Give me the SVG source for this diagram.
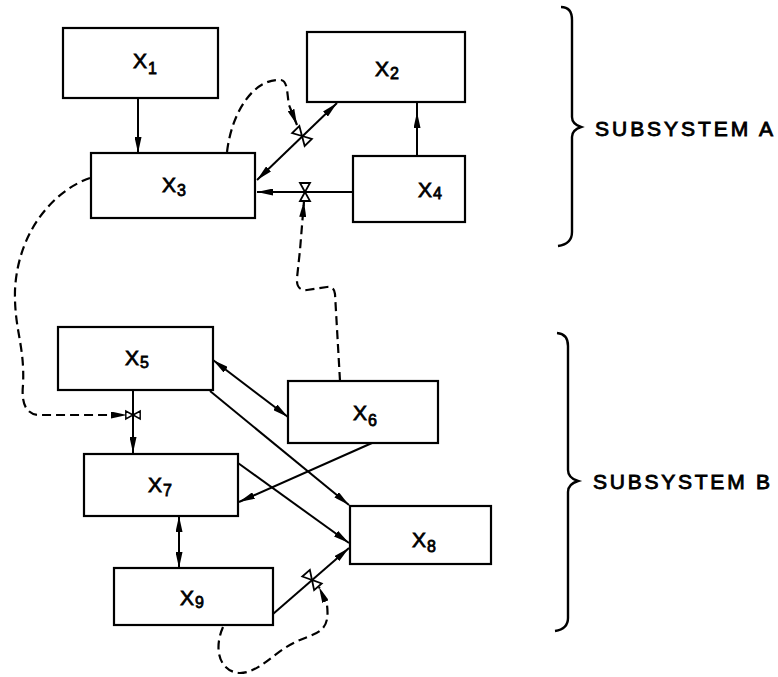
<svg xmlns="http://www.w3.org/2000/svg" xmlns:xlink="http://www.w3.org/1999/xlink" width="778" height="677" viewBox="0 0 778 677">
<style>
.box{fill:#fff;stroke:#000;stroke-width:2.2}
.lbl{font-family:"Liberation Sans",Arial,sans-serif;font-size:21px;fill:#000;stroke:#000;stroke-width:0.8}
.sub{font-size:16px}
.ln{fill:none;stroke:#000;stroke-width:2}
.dash{fill:none;stroke:#000;stroke-width:2.2;stroke-dasharray:9 5}
.brace{fill:none;stroke:#000;stroke-width:2.4}
.sys{font-family:"Liberation Sans",Arial,sans-serif;font-size:21px;fill:#000;stroke:#000;stroke-width:0.9}
.valve{fill:#fff;stroke:#000;stroke-width:1.8}
</style>
<defs>
<marker id="arr" viewBox="0 0 16 7" refX="16" refY="3.5" markerWidth="16" markerHeight="7" markerUnits="userSpaceOnUse" orient="auto-start-reverse">
<path d="M0,0 L16,3.5 L0,7 Z" fill="#000"/>
</marker>
<g id="valve"><path class="valve" d="M0,0 L-5,-9 L5,-9 Z M0,0 L-5,9 L5,9 Z"/></g>
</defs>
<rect width="778" height="677" fill="#fff"/>

<g id="connectors">
<path class="ln" d="M138,98 L138,153" marker-end="url(#arr)"/>
<path class="ln" d="M417,156 L417,112 L417,102" marker-mid="url(#arr)"/>
<path class="ln" d="M257,180 L337,103" marker-start="url(#arr)" marker-end="url(#arr)"/>
<path class="ln" d="M353,192 L257,192" marker-end="url(#arr)"/>
<path class="ln" d="M133,390 L133,453" marker-end="url(#arr)"/>
<path class="ln" d="M213,360 L288,417" marker-start="url(#arr)" marker-end="url(#arr)"/>
<path class="ln" d="M210,391 L349,505" marker-end="url(#arr)"/>
<path class="ln" d="M372,443 L239,502" marker-end="url(#arr)"/>
<path class="ln" d="M238,463 L349,543" marker-end="url(#arr)"/>
<path class="ln" d="M179,516 L179,568" marker-start="url(#arr)" marker-end="url(#arr)"/>
<path class="ln" d="M273,614 L349,548" marker-end="url(#arr)"/>

<path class="dash" d="M227,152 C232,110 255,78 281,80 C288,81 287,95 289,105 L297,125" marker-end="url(#arr)"/>
<path class="dash" d="M340,381 L335,294 Q334,286 327,287 L307,290 Q296,291 297,278 L300,250 L304,201" marker-end="url(#arr)"/>
<path class="dash" d="M90,178 C55,190 18,230 15,290 C14,330 25,345 23,385 C21,405 27,415 40,415 L127,415" marker-end="url(#arr)"/>
<path class="dash" d="M223,627 C213,650 220,672 240,673 C260,673 275,650 300,640 C320,632 330,630 327,605 L319,587" marker-end="url(#arr)"/>

<use href="#valve" transform="translate(302,136) rotate(-44)"/>
<use href="#valve" transform="translate(305,192)"/>
<use href="#valve" transform="translate(133,415) rotate(90) scale(0.8)"/>
<use href="#valve" transform="translate(312,580) rotate(-41)"/>
</g>

<g id="X1"><rect class="box" x="63" y="28" width="155" height="70"/><text class="lbl" x="133" y="68">X<tspan class="sub" dx="1" dy="6">1</tspan></text></g>
<g id="X2"><rect class="box" x="307" y="32" width="158" height="70"/><text class="lbl" x="375" y="76">X<tspan class="sub" dx="1" dy="3">2</tspan></text></g>
<g id="X3"><rect class="box" x="91" y="153" width="164" height="65"/><text class="lbl" x="162" y="192">X<tspan class="sub" dx="1" dy="4">3</tspan></text></g>
<g id="X4"><rect class="box" x="353" y="156" width="112" height="66"/><text class="lbl" x="418" y="197">X<tspan class="sub" dx="1" dy="2">4</tspan></text></g>
<g id="X5"><rect class="box" x="58" y="327" width="155" height="63"/><text class="lbl" x="125" y="365">X<tspan class="sub" dx="1" dy="3">5</tspan></text></g>
<g id="X6"><rect class="box" x="288" y="381" width="150" height="62"/><text class="lbl" x="353" y="420">X<tspan class="sub" dx="1" dy="6">6</tspan></text></g>
<g id="X7"><rect class="box" x="84" y="454" width="154" height="62"/><text class="lbl" x="148" y="492">X<tspan class="sub" dx="1" dy="4">7</tspan></text></g>
<g id="X8"><rect class="box" x="350" y="506" width="141" height="58"/><text class="lbl" x="412" y="547">X<tspan class="sub" dx="1" dy="5">8</tspan></text></g>
<g id="X9"><rect class="box" x="114" y="568" width="159" height="57"/><text class="lbl" x="180" y="605">X<tspan class="sub" dx="1" dy="3">9</tspan></text></g>

<g id="subsystemA">
<path class="brace" d="M561,7 Q572,7 572,20 L572,117 Q572,124 581,127 Q572,130 572,137 L572,232 Q572,244 558,246"/>
<text class="sys" x="595" y="136" textLength="178" lengthAdjust="spacing">SUBSYSTEM A</text>
</g>
<g id="subsystemB">
<path class="brace" d="M557,333 Q568,334 568,346 L568,470 Q568,478 578,481 Q568,484 568,492 L568,618 Q568,629 555,631"/>
<text class="sys" x="593" y="489" textLength="177" lengthAdjust="spacing">SUBSYSTEM B</text>
</g>
</svg>
